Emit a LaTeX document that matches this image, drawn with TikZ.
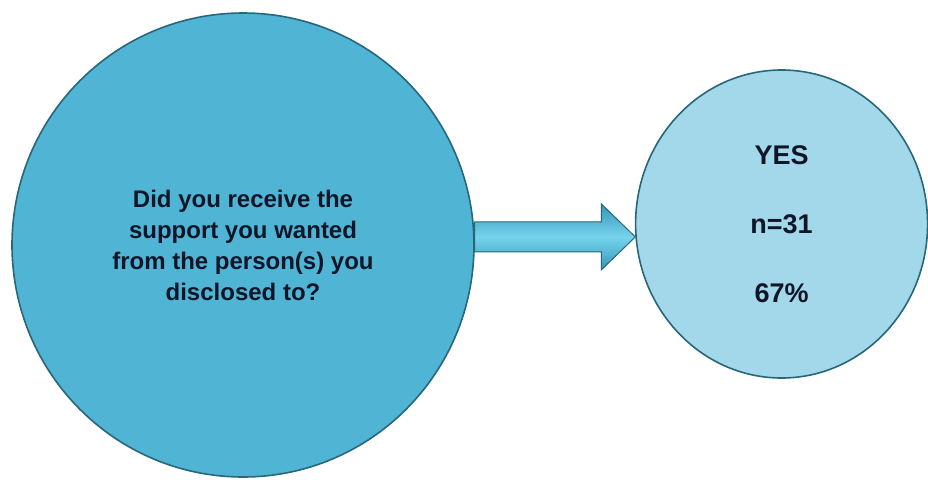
\documentclass[tikz,border=0pt]{standalone}
\usepackage{fontspec}
\setmainfont{Liberation Sans}
\usepackage{tikz}
\usetikzlibrary{shapes.geometric,positioning,calc}
\definecolor{askblue}{RGB}{80,180,212}
\definecolor{yesblue}{RGB}{162,216,233}
\definecolor{rimteal}{RGB}{40,102,122}
\definecolor{arrowlight}{RGB}{118,212,236}
\definecolor{arrowdark}{RGB}{52,150,184}
\definecolor{inkblue}{RGB}{16,22,40}
\begin{document}
\begin{tikzpicture}[x=1pt, y=-1pt,
  node distance=160pt,
  bubble/.style={ellipse, draw=rimteal, line width=1.6pt, align=center, inner sep=0pt,
    text=inkblue, font=\bfseries},
  blockarr/.style={draw=rimteal, line width=1pt, top color=arrowdark, bottom color=arrowdark,
    middle color=arrowlight}]
\useasboundingbox (0,0) rectangle (928,479);
\node[bubble, fill=askblue, minimum width=462pt, minimum height=464pt,
  font=\bfseries\fontsize{24}{31}\selectfont] (q) at (243,245)
  {Did you receive the\\support you wanted\\from the person(s) you\\disclosed to?};
\node[bubble, fill=yesblue, minimum width=292pt, minimum height=308pt,
  font=\bfseries\fontsize{27}{69}\selectfont, right=of q, yshift=21pt] (a)
  {YES\\n=31\\67\%};
% block arrow from question to answer
\draw[blockarr] let \p1=(q.2), \p2=(a.185) in
  (\x1,\y1+15pt) -- (\x2-34pt,\y1+15pt) -- (\x2-34pt,\y1+33pt) -- (\x2,\y1)
  -- (\x2-34pt,\y1-33pt) -- (\x2-34pt,\y1-15pt) -- (\x1,\y1-15pt) -- cycle;
\end{tikzpicture}
\end{document}
